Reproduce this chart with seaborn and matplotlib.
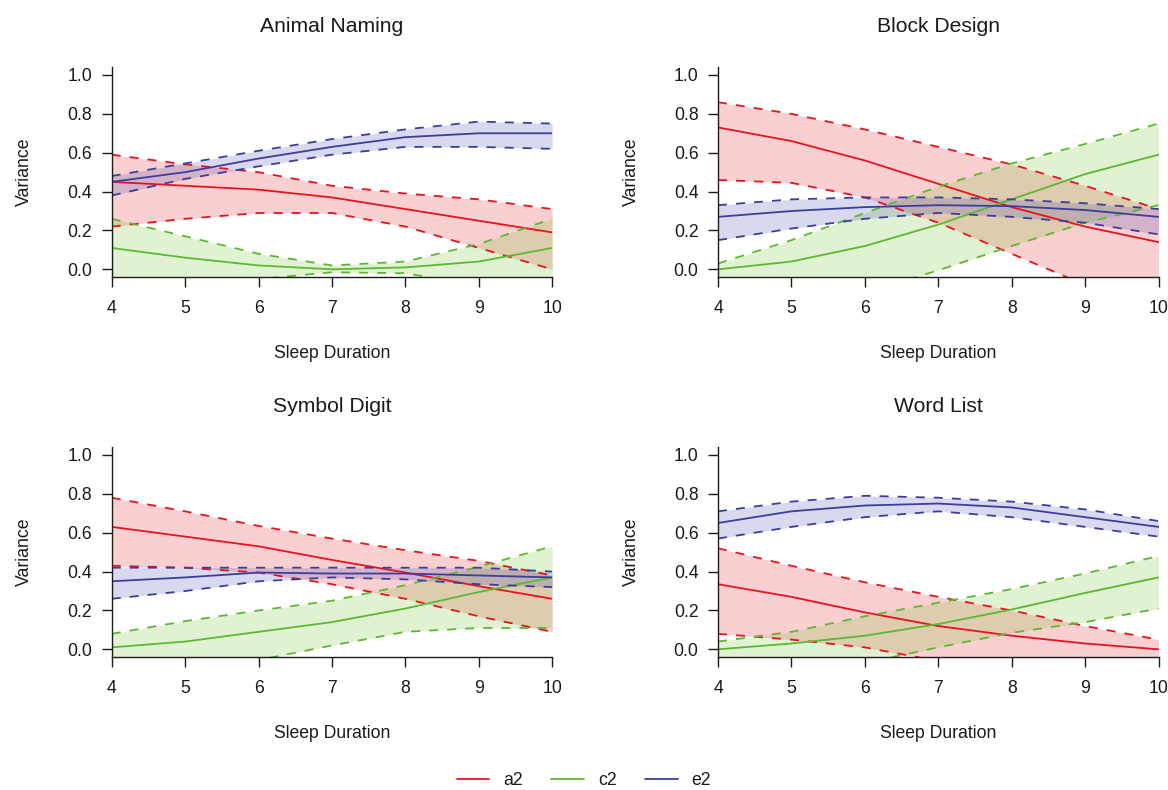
import numpy as np
import pandas as pd
import matplotlib
matplotlib.use("Agg")
import matplotlib.pyplot as plt
from matplotlib.lines import Line2D
import seaborn as sns

sns.set_theme(style="white")
plt.rcParams["font.family"] = ["Liberation Sans", "DejaVu Sans"]

sleep = [4, 5, 6, 7, 8, 9, 10]
titles = ["Animal Naming", "Block Design", "Symbol Digit", "Word List"]
components = ["a2", "c2", "e2"]

# Animal Naming
an_a2 = [0.45, 0.43, 0.41, 0.37, 0.31, 0.25, 0.19]
an_a2_hi = [0.59, 0.54, 0.50, 0.43, 0.39, 0.36, 0.31]
an_a2_lo = [0.22, 0.26, 0.29, 0.29, 0.22, 0.11, 0.00]
an_c2 = [0.11, 0.06, 0.02, 0.00, 0.01, 0.04, 0.11]
an_c2_hi = [0.26, 0.17, 0.08, 0.02, 0.04, 0.13, 0.26]
an_c2_lo = [-0.25, -0.15, -0.05, -0.015, -0.02, -0.085, -0.20]
an_e2 = [0.45, 0.50, 0.57, 0.63, 0.68, 0.70, 0.70]
an_e2_hi = [0.48, 0.545, 0.61, 0.67, 0.72, 0.76, 0.75]
an_e2_lo = [0.38, 0.465, 0.53, 0.59, 0.63, 0.63, 0.62]

# Block Design
bd_a2 = [0.73, 0.66, 0.56, 0.44, 0.32, 0.22, 0.14]
bd_a2_hi = [0.86, 0.80, 0.72, 0.63, 0.54, 0.43, 0.31]
bd_a2_lo = [0.46, 0.445, 0.37, 0.24, 0.08, -0.08, -0.20]
bd_c2 = [0.00, 0.04, 0.12, 0.23, 0.36, 0.49, 0.59]
bd_c2_hi = [0.03, 0.15, 0.29, 0.425, 0.545, 0.645, 0.75]
bd_c2_lo = [-0.35, -0.22, -0.12, -0.005, 0.12, 0.24, 0.33]
bd_e2 = [0.27, 0.30, 0.32, 0.33, 0.325, 0.305, 0.27]
bd_e2_hi = [0.33, 0.36, 0.37, 0.37, 0.36, 0.34, 0.31]
bd_e2_lo = [0.15, 0.21, 0.26, 0.29, 0.27, 0.24, 0.18]

# Symbol Digit
sd_a2 = [0.63, 0.58, 0.53, 0.46, 0.395, 0.325, 0.26]
sd_a2_hi = [0.78, 0.71, 0.635, 0.57, 0.51, 0.455, 0.38]
sd_a2_lo = [0.43, 0.42, 0.395, 0.335, 0.26, 0.17, 0.09]
sd_c2 = [0.01, 0.04, 0.09, 0.14, 0.21, 0.295, 0.37]
sd_c2_hi = [0.08, 0.145, 0.20, 0.25, 0.33, 0.425, 0.53]
sd_c2_lo = [-0.25, -0.15, -0.055, 0.02, 0.09, 0.11, 0.11]
sd_e2 = [0.35, 0.37, 0.395, 0.39, 0.39, 0.38, 0.37]
sd_e2_hi = [0.42, 0.42, 0.42, 0.42, 0.42, 0.42, 0.40]
sd_e2_lo = [0.26, 0.30, 0.35, 0.37, 0.36, 0.335, 0.32]

# Word List
wl_a2 = [0.335, 0.27, 0.19, 0.12, 0.07, 0.03, 0.00]
wl_a2_hi = [0.52, 0.43, 0.345, 0.27, 0.20, 0.12, 0.05]
wl_a2_lo = [0.08, 0.05, 0.01, -0.06, -0.15, -0.22, -0.28]
wl_c2 = [0.00, 0.03, 0.07, 0.13, 0.205, 0.29, 0.37]
wl_c2_hi = [0.04, 0.09, 0.17, 0.24, 0.31, 0.39, 0.48]
wl_c2_lo = [-0.30, -0.18, -0.07, 0.01, 0.085, 0.14, 0.21]
wl_e2 = [0.65, 0.71, 0.74, 0.75, 0.73, 0.68, 0.63]
wl_e2_hi = [0.71, 0.76, 0.79, 0.78, 0.76, 0.72, 0.66]
wl_e2_lo = [0.57, 0.63, 0.68, 0.71, 0.68, 0.63, 0.58]

y_ticks = [0.0, 0.2, 0.4, 0.6, 0.8, 1.0]
y_ticklabels = ["0.0", "0.2", "0.4", "0.6", "0.8", "1.0"]

colors = {"a2": "#E8131C", "c2": "#5CB832", "e2": "#3C3E9A"}
fill_colors = {"a2": "#E8131C", "c2": "#6CC020", "e2": "#3C3EB0"}

panels = [
    {"a2": (an_a2, an_a2_lo, an_a2_hi), "c2": (an_c2, an_c2_lo, an_c2_hi), "e2": (an_e2, an_e2_lo, an_e2_hi)},
    {"a2": (bd_a2, bd_a2_lo, bd_a2_hi), "c2": (bd_c2, bd_c2_lo, bd_c2_hi), "e2": (bd_e2, bd_e2_lo, bd_e2_hi)},
    {"a2": (sd_a2, sd_a2_lo, sd_a2_hi), "c2": (sd_c2, sd_c2_lo, sd_c2_hi), "e2": (sd_e2, sd_e2_lo, sd_e2_hi)},
    {"a2": (wl_a2, wl_a2_lo, wl_a2_hi), "c2": (wl_c2, wl_c2_lo, wl_c2_hi), "e2": (wl_e2, wl_e2_lo, wl_e2_hi)},
]

W, H = 1168, 790
fig = plt.figure(figsize=(W / 100, H / 100), dpi=100)

lefts = [111.7, 718.0]
width_px = 440.5
tops = [67.2, 447.2]
height_px = 209.9

tick_fs = 12.7
title_fs = 15.2
ink = "#1a1a1a"

for i, (title, pdata) in enumerate(zip(titles, panels)):
    col = i % 2
    row = i // 2
    l = lefts[col] / W
    b = 1 - (tops[row] + height_px) / H
    ax = fig.add_axes([l, b, width_px / W, height_px / H])
    for comp in components:
        mean, lo, hi = pdata[comp]
        c = colors[comp]
        df = pd.DataFrame({"x": sleep, "mean": mean, "lo": lo, "hi": hi})
        ax.fill_between(df["x"], df["lo"], df["hi"], color=fill_colors[comp],
                        alpha=0.2, linewidth=0)
        sns.lineplot(data=df, x="x", y="mean", ax=ax, color=c, lw=1.3)
        sns.lineplot(data=df, x="x", y="lo", ax=ax, color=c, lw=1.3, dashes=False,
                     linestyle=(0, (5, 5)))
        sns.lineplot(data=df, x="x", y="hi", ax=ax, color=c, lw=1.3, dashes=False,
                     linestyle=(0, (5, 5)))
    ax.set_xlim(4, 10)
    ax.set_ylim(-0.04, 1.04)
    ax.set_xticks(sleep)
    ax.set_xticklabels([str(s) for s in sleep])
    ax.set_yticks(y_ticks)
    ax.set_yticklabels(y_ticklabels)
    for side in ["top", "right"]:
        ax.spines[side].set_visible(False)
    for side in ["left", "bottom"]:
        ax.spines[side].set_color(ink)
        ax.spines[side].set_linewidth(1.0)
    ax.tick_params(axis="x", direction="out", length=7.5, width=1.0, color=ink,
                   labelsize=tick_fs, labelcolor=ink, pad=9, bottom=True)
    ax.tick_params(axis="y", direction="out", length=7.0, width=1.0, color=ink,
                   labelsize=tick_fs, labelcolor=ink, pad=7, left=True)
    ax.set_xlabel("Sleep Duration", fontsize=tick_fs, color=ink, labelpad=20)
    ax.set_ylabel("Variance", fontsize=tick_fs, color=ink, labelpad=24.5)
    ax.set_title(title, fontsize=title_fs, color=ink, pad=25.5)
    ax.grid(False)
    ax.set_facecolor("white")

handles = [Line2D([0], [0], color=colors[c], lw=1.3) for c in components]
fig.legend(handles, components, loc="center", bbox_to_anchor=(0.5, 0.0115), ncol=3,
           frameon=False, fontsize=tick_fs, handlelength=1.85, handletextpad=0.8,
           columnspacing=1.6, labelcolor=ink)

fig.savefig("out.png", dpi=100, facecolor="white")
